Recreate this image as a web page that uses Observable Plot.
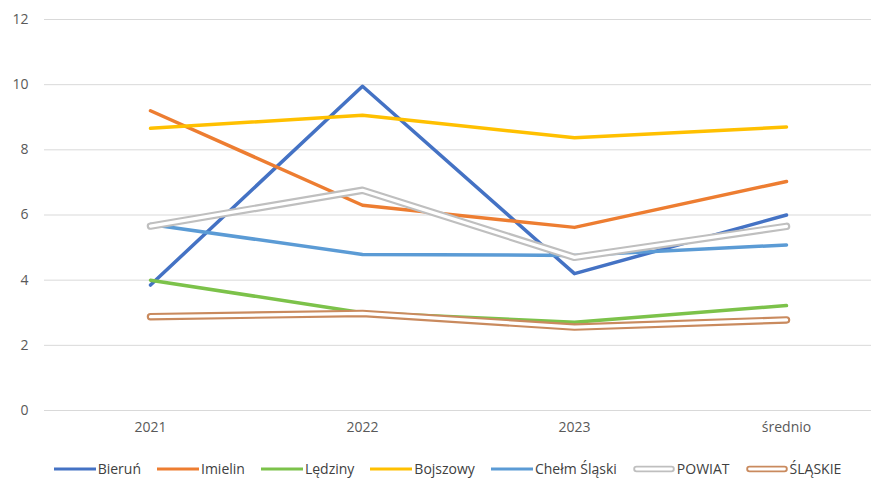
<!DOCTYPE html>
<html>
<head>
<meta charset="utf-8">
<script src="https://cdn.jsdelivr.net/npm/d3@7"></script>
<script src="https://cdn.jsdelivr.net/npm/@observablehq/plot@0.6"></script>
<style>
  html, body { margin: 0; padding: 0; background: #fff; }
  #chart { width: 871px; height: 481px; position: relative; font-family: "Open Sans", "Noto Sans", sans-serif; }
  .legend { display: flex; justify-content: center; align-items: center; gap: 16px; font-size: 14px; color: #404040; margin-top: 9px; padding-left: 24px; }
  .legend .item { display: flex; align-items: center; gap: 2px; }
</style>
</head>
<body>
<div id="chart"></div>
<script>
// ---- data ----
const categories = ["2021", "2022", "2023", "średnio"];
const seriesNames = ["Bieruń", "Imielin", "Lędziny", "Bojszowy", "Chełm Śląski", "POWIAT", "ŚLĄSKIE"];
const bierun      = [3.85, 9.95, 4.20, 6.00];
const imielin     = [9.20, 6.30, 5.62, 7.03];
const ledziny     = [4.00, 3.00, 2.71, 3.22];
const bojszowy    = [8.66, 9.06, 8.37, 8.70];
const chelm       = [5.71, 4.79, 4.76, 5.08];
const powiat      = [5.66, 6.76, 4.70, 5.65];
const slaskie     = [2.88, 2.98, 2.56, 2.78];
const yTicks = [0, 2, 4, 6, 8, 10, 12];

// ---- styles ----
const colors = ["#4472C4", "#ED7D31", "#7CC24A", "#FFC000", "#5B9BD5", "#BFBFBF", "#C98A5E"];
const hollow = [false, false, false, false, false, true, true];

const valuesList = [bierun, imielin, ledziny, bojszowy, chelm, powiat, slaskie];
const rows = [];
seriesNames.forEach((s, i) => categories.forEach((c, j) => rows.push({series: s, cat: c, value: valuesList[i][j]})));

const marks = [
  Plot.gridY(yTicks, {stroke: "#d9d9d9", strokeOpacity: 1, strokeWidth: 1}),
  Plot.axisY(yTicks, {tickSize: 0, tickPadding: 16, label: null, fontSize: 14, fill: "#595959"}),
  Plot.axisX({tickSize: 0, tickPadding: 12, label: null, fontSize: 14, fill: "#595959"})
];
seriesNames.forEach((s, i) => {
  const d = rows.filter(r => r.series === s);
  if (hollow[i]) {
    marks.push(Plot.line(d, {x: "cat", y: "value", stroke: colors[i], strokeWidth: 7.5, strokeLinecap: "round", strokeLinejoin: "round"}));
    marks.push(Plot.line(d, {x: "cat", y: "value", stroke: "#ffffff", strokeWidth: 3.2, strokeLinecap: "round", strokeLinejoin: "round"}));
  } else {
    marks.push(Plot.line(d, {x: "cat", y: "value", stroke: colors[i], strokeWidth: 3.5, strokeLinecap: "round", strokeLinejoin: "round"}));
  }
});

const plot = Plot.plot({
  width: 871,
  height: 450,
  marginTop: 19,
  marginBottom: 40,
  marginLeft: 44,
  marginRight: 0,
  style: {fontFamily: "'Open Sans', 'Noto Sans', sans-serif", fontSize: "14px", background: "#fff"},
  x: {type: "point", domain: categories, range: [150, 786], padding: 0},
  y: {domain: [0, 12], range: [410, 19]},
  marks
});
const chart = document.getElementById("chart");
chart.appendChild(plot);

// legend
const legend = document.createElement("div");
legend.className = "legend";
seriesNames.forEach((s, i) => {
  const item = document.createElement("div");
  item.className = "item";
  const sw = d3.create("svg").attr("width", 42).attr("height", 10);
  if (hollow[i]) {
    sw.append("line").attr("x1", 3.5).attr("x2", 38.5).attr("y1", 5).attr("y2", 5).attr("stroke", colors[i]).attr("stroke-width", 6.5).attr("stroke-linecap", "round");
    sw.append("line").attr("x1", 3.5).attr("x2", 38.5).attr("y1", 5).attr("y2", 5).attr("stroke", "#fff").attr("stroke-width", 2.8).attr("stroke-linecap", "round");
  } else {
    sw.append("line").attr("x1", 0).attr("x2", 42).attr("y1", 5).attr("y2", 5).attr("stroke", colors[i]).attr("stroke-width", 3.2).attr("stroke-linecap", "round");
  }
  item.appendChild(sw.node());
  const t = document.createElement("span");
  t.textContent = s;
  item.appendChild(t);
  legend.appendChild(item);
});
chart.appendChild(legend);
</script>
</body>
</html>
